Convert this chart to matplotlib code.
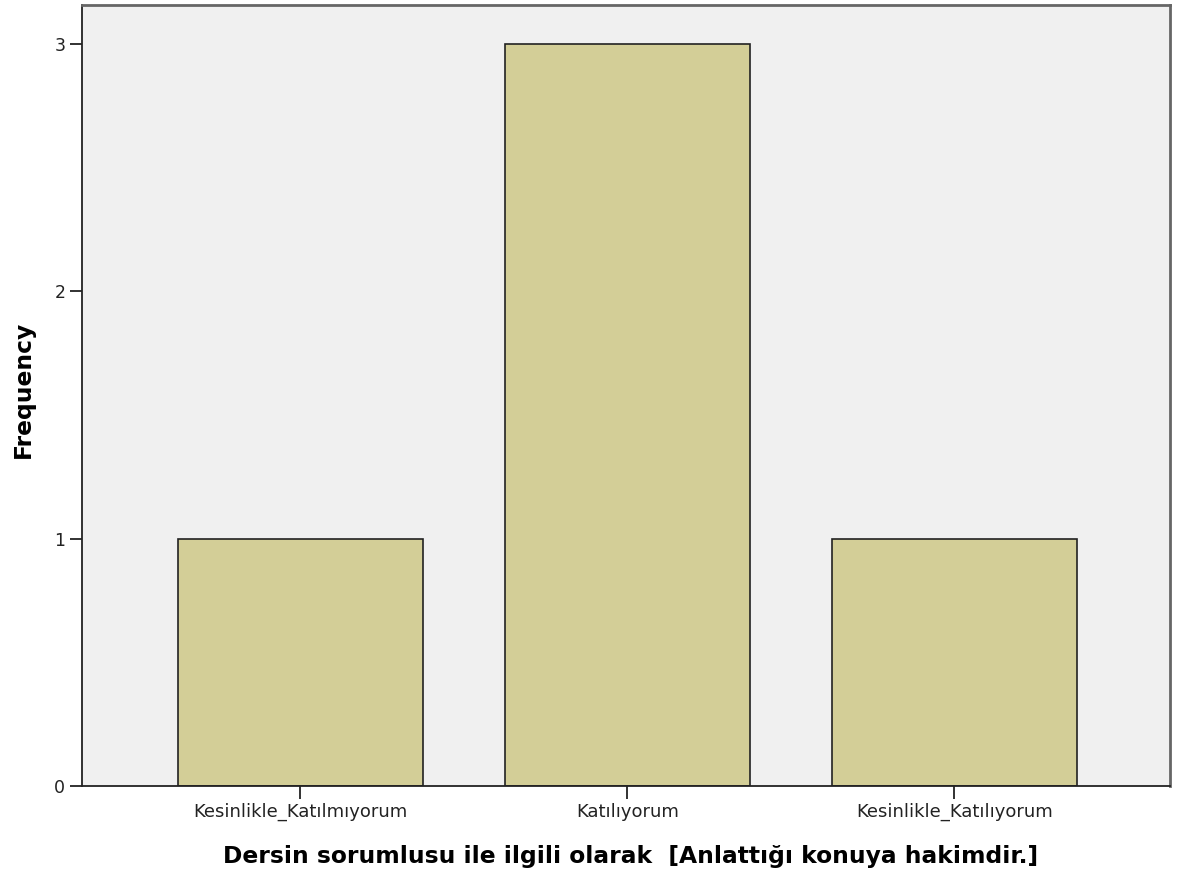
import matplotlib
matplotlib.use("Agg")
import matplotlib.pyplot as plt

categories = ["Kesinlikle_Katılmıyorum", "Katılıyorum", "Kesinlikle_Katılıyorum"]
frequencies = [1, 3, 1]
yticks = [0, 1, 2, 3]

plt.rcParams['font.family'] = ['DejaVu Sans']

fig = plt.figure(figsize=(11.8, 8.83), dpi=100)
ax = fig.add_axes([82/1180, 1-786/883, (1170-82)/1180, (786-5)/883])
ax.set_facecolor('#F0F0F0')
x = list(range(len(categories)))
ax.bar(x, frequencies, width=0.75, color='#D3CE97', edgecolor='#222222', linewidth=1.2, zorder=2)
ax.set_xlim(-0.668, 2.66)
ax.set_ylim(0, 3.158)
ax.set_xticks(x)
ax.set_xticklabels(categories, fontsize=13, color='#222222')
ax.set_yticks(yticks)
ax.set_yticklabels([str(v) for v in yticks], fontsize=12.5, color='#222222')
ax.tick_params(axis='both', direction='out', length=9, width=1.3, color='#222222', pad=3)
for s in ['left', 'bottom']:
    ax.spines[s].set_color('#222222')
    ax.spines[s].set_linewidth(1.3)
for s in ['top', 'right']:
    ax.spines[s].set_color('#666666')
    ax.spines[s].set_linewidth(2)
ax.set_xlabel("Dersin sorumlusu ile ilgili olarak  [Anlattığı konuya hakimdir.]",
              fontsize=16.8, fontweight='bold', va='center', ha='center')
ax.xaxis.set_label_coords(0.504, (786-857)/781)
ax.set_ylabel("Frequency", fontsize=16.8, fontweight='bold', va='center', ha='center')
ax.yaxis.set_label_coords((23-82)/1088, 0.508)
fig.savefig("out.png", dpi=100)
